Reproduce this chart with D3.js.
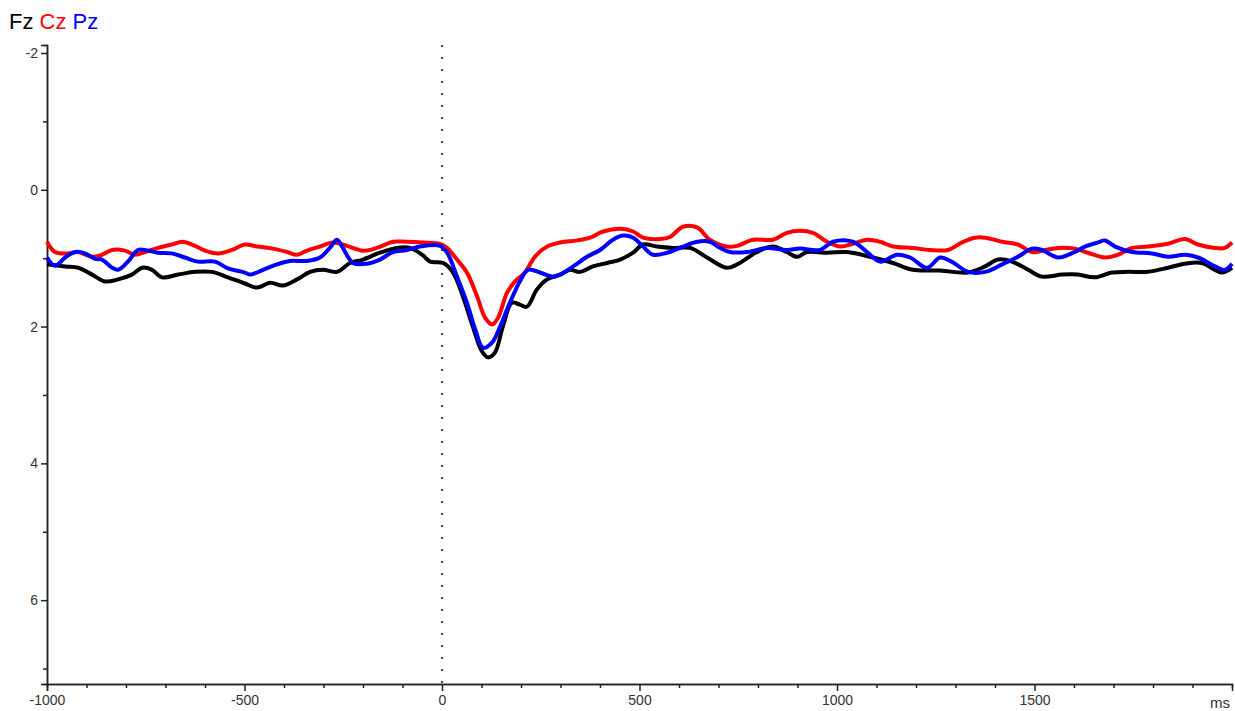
<!DOCTYPE html>
<html>
<head>
<meta charset="utf-8">
<script src="https://cdn.jsdelivr.net/npm/d3@7"></script>
<style>
  html, body { margin: 0; padding: 0; background: #fff; }
  svg { display: block; font-family: "Liberation Sans", Arial, sans-serif; }
</style>
</head>
<body>
<svg id="chart" width="1235" height="711"></svg>
<script>
// channel names and colours for the legend
const channels = ['Fz', 'Cz', 'Pz'];
const channelColors = ['#000000', '#ff0000', '#0000ff'];

// [time ms, amplitude µV]
const fzData = [
  [-1000, 1.09], [-954, 1.12], [-921, 1.14], [-886, 1.24], [-853, 1.34], [-820, 1.31],
  [-785, 1.24], [-759, 1.14], [-734, 1.17], [-709, 1.28], [-668, 1.24], [-625, 1.20],
  [-582, 1.20], [-542, 1.28], [-499, 1.37], [-468, 1.43], [-435, 1.36], [-403, 1.40],
  [-367, 1.31], [-334, 1.20], [-301, 1.17], [-266, 1.20], [-233, 1.07], [-200, 1.02],
  [-157, 0.92], [-114, 0.85], [-81, 0.85], [-48, 0.96], [-30, 1.05], [3, 1.07],
  [28, 1.21], [53, 1.56], [78, 2.00], [101, 2.36], [116, 2.45], [134, 2.38],
  [154, 2.00], [177, 1.65], [197, 1.68], [215, 1.71], [240, 1.46], [266, 1.31],
  [299, 1.24], [324, 1.17], [349, 1.20], [382, 1.12], [418, 1.07], [451, 1.02],
  [484, 0.92], [509, 0.80], [544, 0.83], [585, 0.85], [628, 0.85], [671, 0.99],
  [721, 1.14], [754, 1.07], [797, 0.91], [838, 0.83], [873, 0.91], [899, 0.98],
  [924, 0.91], [975, 0.92], [1025, 0.91], [1091, 0.99], [1142, 1.07], [1192, 1.17],
  [1261, 1.18], [1332, 1.21], [1375, 1.12], [1408, 1.02], [1443, 1.05], [1484, 1.17],
  [1519, 1.27], [1570, 1.24], [1610, 1.24], [1653, 1.28], [1696, 1.21], [1737, 1.20],
  [1787, 1.20], [1838, 1.14], [1881, 1.08], [1924, 1.07], [1957, 1.17], [1975, 1.21],
  [2000, 1.14]
];

const czData = [
  [-1000, 0.76], [-980, 0.91], [-947, 0.93], [-921, 0.91], [-886, 0.98], [-861, 0.95],
  [-835, 0.88], [-803, 0.89], [-777, 0.95], [-752, 0.91], [-719, 0.85], [-684, 0.80],
  [-658, 0.76], [-633, 0.80], [-600, 0.89], [-567, 0.93], [-532, 0.88], [-499, 0.80],
  [-468, 0.83], [-428, 0.86], [-392, 0.91], [-367, 0.95], [-342, 0.89], [-309, 0.83],
  [-276, 0.77], [-241, 0.82], [-200, 0.89], [-165, 0.85], [-124, 0.76], [-89, 0.76],
  [-48, 0.77], [-5, 0.79], [13, 0.85], [38, 1.02], [63, 1.21], [89, 1.56],
  [109, 1.87], [127, 1.97], [142, 1.87], [165, 1.50], [185, 1.34], [210, 1.21],
  [235, 0.98], [266, 0.83], [299, 0.77], [342, 0.74], [375, 0.70], [408, 0.61],
  [451, 0.57], [484, 0.61], [509, 0.70], [552, 0.72], [577, 0.69], [610, 0.54],
  [646, 0.55], [678, 0.73], [721, 0.83], [747, 0.82], [787, 0.73], [838, 0.73],
  [873, 0.63], [906, 0.60], [939, 0.63], [975, 0.76], [1008, 0.83], [1040, 0.79],
  [1076, 0.73], [1109, 0.76], [1142, 0.83], [1192, 0.85], [1235, 0.88], [1281, 0.88],
  [1316, 0.77], [1349, 0.70], [1375, 0.70], [1418, 0.76], [1458, 0.80], [1494, 0.91],
  [1527, 0.88], [1559, 0.85], [1602, 0.86], [1635, 0.92], [1678, 0.99], [1711, 0.95],
  [1747, 0.85], [1787, 0.83], [1838, 0.79], [1881, 0.72], [1914, 0.80], [1957, 0.85],
  [1982, 0.85], [2000, 0.77]
];

const pzData = [
  [-1000, 0.99], [-980, 1.11], [-954, 0.99], [-929, 0.91], [-904, 0.93], [-878, 1.01],
  [-861, 1.02], [-835, 1.14], [-820, 1.17], [-795, 1.05], [-770, 0.88], [-744, 0.89],
  [-719, 0.92], [-684, 0.93], [-651, 0.99], [-618, 1.05], [-575, 1.05], [-542, 1.15],
  [-499, 1.21], [-486, 1.24], [-453, 1.17], [-418, 1.09], [-385, 1.04], [-342, 1.04],
  [-309, 0.99], [-284, 0.85], [-266, 0.73], [-251, 0.85], [-225, 1.07], [-190, 1.08],
  [-157, 1.02], [-124, 0.91], [-89, 0.88], [-56, 0.83], [-5, 0.82], [13, 0.92],
  [38, 1.27], [63, 1.65], [84, 2.04], [104, 2.31], [127, 2.23], [147, 2.00],
  [172, 1.65], [197, 1.34], [218, 1.17], [248, 1.21], [281, 1.27], [299, 1.24],
  [332, 1.12], [367, 0.98], [400, 0.88], [433, 0.73], [458, 0.67], [484, 0.70],
  [509, 0.83], [534, 0.95], [570, 0.92], [610, 0.83], [646, 0.76], [678, 0.76],
  [704, 0.85], [729, 0.91], [772, 0.91], [823, 0.85], [873, 0.88], [906, 0.86],
  [957, 0.88], [990, 0.76], [1040, 0.76], [1076, 0.91], [1109, 1.05], [1152, 0.95],
  [1185, 0.99], [1228, 1.14], [1261, 0.99], [1290, 1.05], [1332, 1.20], [1375, 1.20],
  [1418, 1.09], [1458, 0.98], [1494, 0.86], [1519, 0.88], [1559, 0.99], [1602, 0.91],
  [1628, 0.83], [1661, 0.77], [1678, 0.74], [1704, 0.83], [1747, 0.91], [1797, 0.93],
  [1838, 0.98], [1881, 0.95], [1914, 0.99], [1957, 1.12], [1982, 1.17], [2000, 1.08]
];

const yTicks = [-2, 0, 2, 4, 6];
const yMinorTicks = [-1, 1, 3, 5, 7];
const xTicks = [-1000, -500, 0, 500, 1000, 1500];
const xUnit = 'ms';

const svg = d3.select('#chart');
const margin = {top: 45, right: 3, bottom: 27, left: 47};
const width = 1235 - margin.left - margin.right;
const height = 711 - margin.top - margin.bottom;

const x = d3.scaleLinear().domain([-1000, 2000]).range([0, width]);
// negative up, as EEG plots usually do
const y = d3.scaleLinear().domain([-2.117, 7.226]).range([0, height]);

const chart = svg.append('g')
  .attr('transform', 'translate(' + margin.left + ',' + margin.top + ')');

// stimulus onset
chart.append('line')
  .attr('x1', x(0)).attr('x2', x(0))
  .attr('y1', 0).attr('y2', height)
  .attr('stroke', '#000')
  .attr('stroke-width', 1.5)
  .attr('stroke-dasharray', '2,10');

// plain hyphen minus, like the original software
const plain = d => String(d);

// left axis
const yAxis = d3.axisLeft(y).tickValues(yTicks).tickSize(6).tickPadding(3)
  .tickFormat(plain);
chart.append('g').call(yAxis);
chart.append('g').call(d3.axisLeft(y).tickValues(yMinorTicks).tickSize(4).tickFormat(''));

// bottom axis
const xMinor = d3.range(-900, 2000, 100).filter(v => v % 500 !== 0);
chart.append('g')
  .attr('transform', 'translate(0,' + height + ')')
  .call(d3.axisBottom(x).tickValues(xTicks).tickSize(7).tickPadding(4)
    .tickFormat(plain));
chart.append('g')
  .attr('transform', 'translate(0,' + height + ')')
  .call(d3.axisBottom(x).tickValues(xMinor).tickSize(4).tickFormat(''));

chart.selectAll('.domain').attr('stroke', '#222').attr('stroke-width', 1.5);
chart.selectAll('.tick line').attr('stroke', '#222').attr('stroke-width', 1.5);
chart.selectAll('.tick text')
  .attr('fill', '#333')
  .style('font-size', '14px')
  .style('font-family', '"Liberation Sans", Arial, sans-serif');

chart.append('text')
  .attr('x', x(2000) - 2)
  .attr('y', height + 24)
  .attr('text-anchor', 'end')
  .attr('fill', '#333')
  .style('font-size', '15px')
  .text(xUnit);

// traces
const line = d3.line()
  .x(d => x(d[0]))
  .y(d => y(d[1]))
  .curve(d3.curveCatmullRom.alpha(0.5));

[fzData, czData, pzData].forEach((data, i) => {
  chart.append('path')
    .datum(data)
    .attr('fill', 'none')
    .attr('stroke', channelColors[i])
    .attr('stroke-width', 4)
    .attr('stroke-linejoin', 'round')
    .attr('d', line);
});

// channel legend
const legend = svg.append('text')
  .attr('x', 9)
  .attr('y', 29)
  .style('font-size', '22px');
channels.forEach((name, i) => {
  legend.append('tspan')
    .attr('fill', channelColors[i])
    .text((i ? ' ' : '') + name);
});
</script>
</body>
</html>
